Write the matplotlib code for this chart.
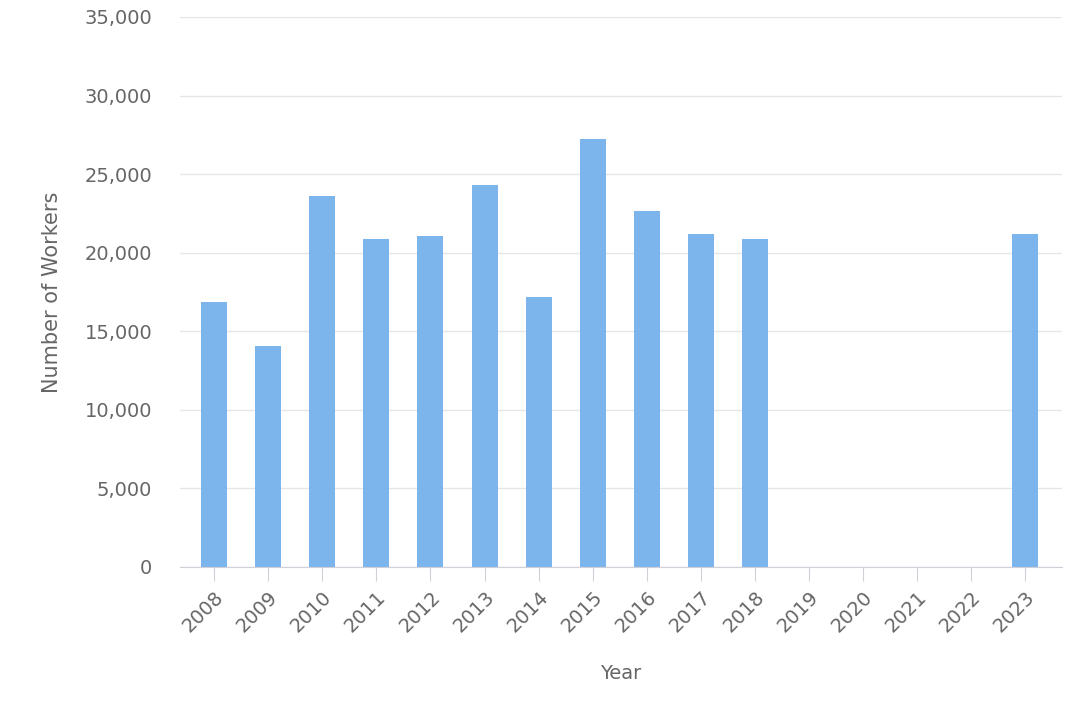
import numpy as np
import matplotlib.pyplot as plt
from matplotlib.ticker import FuncFormatter

# --- Data ---
years = ["2008", "2009", "2010", "2011", "2012", "2013", "2014", "2015",
         "2016", "2017", "2018", "2019", "2020", "2021", "2022", "2023"]
workers = [16870, 14080, 23620, 20880, 21070, 24300, 17190, 27250,
           22680, 21170, 20870, 0, 0, 0, 0, 21200]

text_color = "#666666"

fig = plt.figure(figsize=(10.8, 7.2), dpi=100)
ax = fig.add_axes([0.1667, 0.2125, 0.8163, 0.7639])

x = np.arange(len(years))
ax.bar(x, workers, width=0.48, color="#7cb5ec", zorder=3)

ax.set_xlim(-0.63, 15.67)
ax.set_ylim(0, 35000)
ax.set_yticks(np.arange(0, 35001, 5000))
ax.yaxis.set_major_formatter(FuncFormatter(lambda v, p: f"{int(v):,}"))
ax.grid(axis="y", color="#e6e6e6", lw=1, zorder=0)

ax.set_xticks(x)
ax.set_xticklabels(years, rotation=45, ha="right", rotation_mode="anchor")

for s in ["top", "right", "left"]:
    ax.spines[s].set_visible(False)
ax.spines["bottom"].set_color("#d0d0d8")
ax.spines["bottom"].set_zorder(4)

ax.tick_params(axis="y", length=0, pad=20, labelsize=14, labelcolor=text_color)
ax.tick_params(axis="x", length=10, color="#d0d0d8", pad=5, labelsize=14,
               labelcolor=text_color)

ax.set_xlabel("Year", fontsize=14, color=text_color, labelpad=20)
ax.set_ylabel("Number of Workers", fontsize=15, color=text_color, labelpad=16)

fig.savefig("out.png", dpi=100)
